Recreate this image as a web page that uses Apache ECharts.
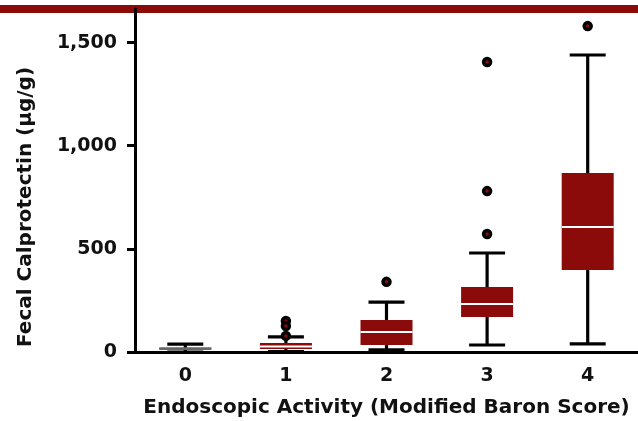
<!DOCTYPE html>
<html>
<head>
<meta charset="utf-8">
<script src="https://cdn.jsdelivr.net/npm/echarts@6/dist/echarts.min.js"></script>
<style>
  html, body { margin: 0; padding: 0; background: #fff; }
  #chart { width: 638px; height: 421px; }
</style>
</head>
<body>
<div id="chart"></div>
<script>
// Endoscopic activity scores on the x axis
var categories = ['0', '1', '2', '3', '4'];
// [category index, min, Q1, median, Q3, max]
var boxes = [
  [0, 0, 10, 17, 22, 38],
  [1, 2, 14, 27, 44, 73],
  [2, 10, 34, 97, 155, 242],
  [3, 34, 170, 233, 315, 480],
  [4, 39, 397, 606, 868, 1440]
];
// [category index, value]
var outliers = [
  [1, 150], [1, 126], [1, 78],
  [2, 340],
  [3, 1406], [3, 780], [3, 572],
  [4, 1580]
];
var yTicks = [0, 500, 1000, 1500];

var red = '#8b0a0a';
var boxColors = ['#666666', red, red, red, red];
var font = 'DejaVu Sans';

var myChart = echarts.init(document.getElementById('chart'));

function renderBox(params, api) {
  var idx = api.value(0);
  var pMin = api.coord([idx, api.value(1)]);
  var pQ1 = api.coord([idx, api.value(2)]);
  var pMed = api.coord([idx, api.value(3)]);
  var pQ3 = api.coord([idx, api.value(4)]);
  var pMax = api.coord([idx, api.value(5)]);
  var x = pMed[0];
  var halfBox = 26;
  var halfCap = 18;
  var line = { stroke: '#000', lineWidth: 3.2 };
  return {
    type: 'group',
    children: [
      { type: 'line', shape: { x1: x, y1: pMax[1], x2: x, y2: pMin[1] }, style: line },
      { type: 'line', shape: { x1: x - halfCap, y1: pMax[1], x2: x + halfCap, y2: pMax[1] }, style: line },
      { type: 'line', shape: { x1: x - halfCap, y1: pMin[1], x2: x + halfCap, y2: pMin[1] }, style: line },
      {
        type: 'rect',
        shape: { x: x - halfBox, y: pQ3[1], width: halfBox * 2, height: pQ1[1] - pQ3[1] },
        style: { fill: boxColors[idx] }
      },
      {
        type: 'line',
        shape: { x1: x - halfBox, y1: pMed[1], x2: x + halfBox, y2: pMed[1] },
        style: { stroke: idx === 0 ? boxColors[0] : '#fff', lineWidth: 2 }
      }
    ]
  };
}

myChart.setOption({
  animation: false,
  backgroundColor: '#fff',
  grid: { left: 135, right: 0, top: 9, bottom: 69, outerBoundsMode: 'none' },
  graphic: [
    {
      type: 'rect',
      z: -10,
      shape: { x: 0, y: 5, width: 638, height: 8 },
      style: { fill: red }
    },
    {
      type: 'text',
      x: 26,
      y: 207,
      rotation: Math.PI / 2,
      style: {
        text: 'Fecal Calprotectin (µg/g)',
        font: 'bold 20px "' + font + '"',
        fill: '#111',
        textAlign: 'center',
        textVerticalAlign: 'middle'
      }
    }
  ],
  xAxis: {
    type: 'category',
    data: categories,
    name: 'Endoscopic Activity (Modified Baron Score)',
    nameLocation: 'middle',
    nameGap: 46,
    nameTextStyle: { fontFamily: font, fontWeight: 'bold', fontSize: 20, color: '#111' },
    axisLine: { lineStyle: { color: '#000', width: 3 } },
    axisTick: { length: 8, lineStyle: { color: '#000', width: 3 } },
    axisLabel: { fontFamily: font, fontWeight: 'bold', fontSize: 19, color: '#111', margin: 15 },
    splitLine: { show: false }
  },
  yAxis: {
    type: 'value',
    min: 0,
    max: 1663,
    interval: 500,
    axisLine: { show: true, lineStyle: { color: '#000', width: 3 } },
    axisTick: { show: true, length: 8, customValues: yTicks, lineStyle: { color: '#000', width: 3 } },
    axisLabel: {
      customValues: yTicks,
      fontFamily: font, fontWeight: 'bold', fontSize: 19, color: '#111', margin: 18,
      formatter: function (v) { return v.toLocaleString('en-US'); }
    },
    splitLine: { show: false }
  },
  series: [
    {
      type: 'custom',
      renderItem: renderBox,
      encode: { x: 0, y: [1, 2, 3, 4, 5] },
      data: boxes,
      z: 2
    },
    {
      type: 'scatter',
      data: outliers,
      symbol: 'circle',
      symbolSize: 7,
      itemStyle: { color: red, borderColor: '#000', borderWidth: 3.5, opacity: 1 },
      z: 3
    }
  ]
});
</script>
</body>
</html>
